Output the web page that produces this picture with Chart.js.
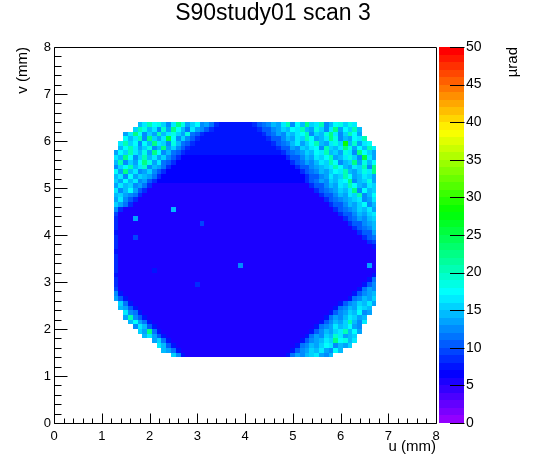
<!DOCTYPE html>
<html><head><meta charset="utf-8">
<script src="https://cdn.jsdelivr.net/npm/chart.js@4.4.1/dist/chart.umd.min.js"></script>
<style>html,body{margin:0;padding:0;background:#fff;}canvas{display:block;}</style>
</head><body>
<canvas id="c" width="546" height="472"></canvas>
<script>
// ---------------- data ----------------
const TITLE = "S90study01 scan 3";
const X_LABEL = "u (mm)";
const Y_LABEL = "v (mm)";
const Z_LABEL = "µrad";
const X_TICKS = [0, 1, 2, 3, 4, 5, 6, 7, 8];
const Y_TICKS = [0, 1, 2, 3, 4, 5, 6, 7, 8];
const Z_TICKS = [0, 5, 10, 15, 20, 25, 30, 35, 40, 45, 50];
const X_RANGE = [0, 8];
const Y_RANGE = [0, 8];
const Z_RANGE = [0, 50];
// histogram bins: first column's left edge (u), first row's top edge (v), bin width (mm)
const U_START = 1.25;
const V_START = 6.40;
const BIN_WIDTH = 0.1;
// cell value code: character index = value in µrad ('.' = empty bin); [cxN] = N bins of value c
const VALUE_CODE = "0123456789ABCDEFGHIJKLMNOPQRSTUVWXYZabcdefghijklmn";
const MAP_ROWS = [
  "[.x5]EGKHIFCGMIDFHCDB8[7x7]8ABCEDGKCHEMFGKCEHIFIG[.x4]",
  "[.x4]FKIEGCJDMHEBGDCA8[7x9]8AACDFEHGKEDIFCGMDHFKE[.x3]",
  "[.x2]DGMHCFDKEGIFDIBA8[7x12]8ABDCFEGHKCFEIMGCFKHD[.x3]",
  "[.x2]HEGKCMFDGPHCFCA8[7x14]8AACEDGFKHDEGMICEDHGK[.x2]",
  "[.x1]GKFHCHEMGFCIEBA8[7x16]8ABCEGDFHKEDGIFSEJDGH[.x1]",
  "[.x1]EHKGDFICEMDFCA8[7x18]8AADCFEGHCKFEGMIDHEKG",
  "DHFKGEIDMHCEBA8[7x20]8ABCDFEHGKEFDIGCMHFD",
  "GEMHCFKEGDFCA8[6x22]8AACEDGFHKDEGIFCPGD",
  "EKCFDHMIDGBA8[6x24]8ABDCEGFKHCEFMDIEH",
  "CFHKEGJCEDB8[6x26]8AACDEFGKHEDGFKCM",
  "HDMEGCDFCA8[6x28]8ABCEDFHGKEDFIGM",
  "EGCHDFEDB8[6x30]8AACDGEFKHDEGFD",
  "FDHEGCDA8[6x31]8ABDCFEGHMCEFID",
  "DGEFCDB8[5x33]8AACEDGFKHEDGF",
  "GCEHDA8[5x35]8ABCDFEGMCHEF",
  "EFDCB8[5x37]8AACEDGFKCEH",
  "DGCA8[5x39]8ABCDEFGCDG",
  "FDB8[5x41]8AACEDFHCE",
  "C8[5x10]E[5x33]8ABCDFEGD",
  "9[5x46]8AACEDFG",
  "8[5x3]D[5x43]8ABDCEF",
  "8[5x17]9[5x30]8AACDE",
  "8[5x49]8ABCE",
  "7[5x50]8AAD",
  "8[5x3]9[5x47]8AB",
  "8[5x52]89",
  "8[5x53]7",
  "7[5x54]",
  "8[5x54]",
  "8[5x54]",
  "8[5x25]C[5x26]D5",
  "8[5x7]7[5x46]",
  "7[5x53]7",
  "8[5x52]7B",
  "8[5x16]8[5x34]7AC",
  "9[5x50]7BDC",
  "C7[5x48]7ACDE",
  "DA7[5x46]7BCEDF",
  "[.x1]FB7[5x43]7ACDFEGD",
  "[.x1]EDA7[5x41]7BCEDGFE[.x1]",
  "[.x2]GCB7[5x39]7ACDFEHCD[.x1]",
  "[.x2]DKCA7[5x37]7BDCEGFDE[.x2]",
  "[.x3]EHDB7[5x35]7ACEDFKECG[.x2]",
  "[.x4]CGEA7[5x33]7BCDGEFHDC[.x3]",
  "[.x5]FDMB7[5x31]7ACEDFGKEHD[.x3]",
  "[.x6]EGDA7[5x29]7BDCFEJGDEF[.x4]",
  "[.x8]DFB7[5x27]7ACDEGFMHIEG[.x4]",
  "[.x9]GEA7[5x25]7BCEDFHGCEDF[.x5]",
  "[.x10]EDB7[5x23]7ACDFEGDCHE[.x7]",
  "[.x12]FC7[5x21]7BDCEFGDCE[.x9]"
];

// ---------------- build cells ----------------
const cells = [];
MAP_ROWS.forEach((row, r) => {
  const s = row.replace(/\[(.)x(\d+)\]/g, (m, ch, n) => ch.repeat(Number(n)));
  for (let c = 0; c < s.length; c++) {
    const z = VALUE_CODE.indexOf(s[c]);
    if (s[c] === '.' || z < 0) continue;
    cells.push({ x: U_START + (c + 0.5) * BIN_WIDTH, y: V_START - (r + 0.5) * BIN_WIDTH, z: z });
  }
});

// ROOT "pretty" palette: 50 levels violet -> red (HLS, s=1, l=0.5)
const N_LEVELS = 50;
function paletteColor(i) {
  const hue = 280 - (i + 1) * (280 / N_LEVELS);
  return 'hsl(' + hue.toFixed(2) + ',100%,50%)';
}
function levelOf(z) {
  const t = (z - Z_RANGE[0]) / (Z_RANGE[1] - Z_RANGE[0]);
  return Math.max(0, Math.min(N_LEVELS - 1, Math.floor(t * N_LEVELS + 1e-9)));
}
const snap = v => Math.round(v * 1e6) / 1e6;

const FONT = "'Liberation Sans', Arial, Helvetica, sans-serif";

const rootPlugin = {
  id: 'rootColz',
  beforeDatasetsDraw(chart) {
    const { ctx, chartArea: ca, scales: { x, y } } = chart;
    const data = chart.data.datasets[0].data;
    ctx.save();
    ctx.beginPath();
    ctx.rect(ca.left, ca.top, ca.right - ca.left, ca.bottom - ca.top);
    ctx.clip();
    const h = BIN_WIDTH / 2;
    data.forEach(p => {
      const L = Math.round(x.getPixelForValue(snap(p.x - h)));
      const R = Math.round(x.getPixelForValue(snap(p.x + h)));
      const T = Math.round(y.getPixelForValue(snap(p.y + h)));
      const B = Math.round(y.getPixelForValue(snap(p.y - h)));
      ctx.fillStyle = paletteColor(levelOf(p.z));
      ctx.fillRect(L, T, R - L, B - T);
    });
    ctx.restore();
  },
  afterDraw(chart) {
    const { ctx, chartArea: ca, scales: { x, y, z } } = chart;
    ctx.save();
    // colour bar
    const bx0 = Math.round(ca.right) + 3, bx1 = Math.round(ca.right) + 28;
    for (let i = 0; i < N_LEVELS; i++) {
      const v0 = Z_RANGE[0] + (Z_RANGE[1] - Z_RANGE[0]) * i / N_LEVELS;
      const v1 = Z_RANGE[0] + (Z_RANGE[1] - Z_RANGE[0]) * (i + 1) / N_LEVELS;
      const T = Math.round(z.getPixelForValue(v1));
      const B = Math.round(z.getPixelForValue(v0));
      ctx.fillStyle = paletteColor(i);
      ctx.fillRect(bx0, T, bx1 - bx0, B - T);
    }
    ctx.strokeStyle = '#000';
    ctx.lineWidth = 1;
    ctx.beginPath();
    Z_TICKS.forEach(t => {
      const py = Math.round(z.getPixelForValue(t)) + 0.5;
      ctx.moveTo(bx1 - 14, py); ctx.lineTo(bx1 + 0.5, py);
    });
    // frame
    const l = Math.round(ca.left) + 0.5, r = Math.round(ca.right) + 0.5;
    const t = Math.round(ca.top) + 0.5, b = Math.round(ca.bottom) + 0.5;
    ctx.moveTo(l, t); ctx.lineTo(r, t); ctx.lineTo(r, b); ctx.lineTo(l, b); ctx.closePath();
    // x ticks (inside, bottom)
    X_TICKS.forEach((tv, i) => {
      const px = Math.round(x.getPixelForValue(tv)) + 0.5;
      ctx.moveTo(px, b); ctx.lineTo(px, b - 10);
      if (i < X_TICKS.length - 1) {
        const step = (X_TICKS[i + 1] - tv) / 5;
        for (let k = 1; k < 5; k++) {
          const mx = Math.round(x.getPixelForValue(tv + k * step)) + 0.5;
          ctx.moveTo(mx, b); ctx.lineTo(mx, b - 5);
        }
      }
    });
    // y ticks (inside, left)
    Y_TICKS.forEach((tv, i) => {
      const py = Math.round(y.getPixelForValue(tv)) + 0.5;
      ctx.moveTo(l, py); ctx.lineTo(l + 13, py);
      if (i < Y_TICKS.length - 1) {
        const step = (Y_TICKS[i + 1] - tv) / 5;
        for (let k = 1; k < 5; k++) {
          const my = Math.round(y.getPixelForValue(tv + k * step)) + 0.5;
          ctx.moveTo(l, my); ctx.lineTo(l + 7, my);
        }
      }
    });
    ctx.stroke();
    // colour-bar title
    ctx.fillStyle = '#000';
    ctx.font = '15px ' + FONT;
    ctx.translate(bx1 + 49, Math.round(ca.top));
    ctx.rotate(-Math.PI / 2);
    ctx.textAlign = 'right';
    ctx.textBaseline = 'middle';
    ctx.fillText(Z_LABEL, 0, 0);
    ctx.restore();
  }
};

const fixedTicks = arr => scale => { scale.ticks = arr.map(v => ({ value: v })); };

new Chart(document.getElementById('c'), {
  type: 'scatter',
  data: { datasets: [{ label: Z_LABEL, data: cells, pointRadius: 0, pointHoverRadius: 0, showLine: false }] },
  options: {
    responsive: false,
    animation: false,
    devicePixelRatio: 1,
    events: [],
    layout: { padding: 0 },
    plugins: {
      legend: { display: false },
      tooltip: { enabled: false },
      title: {
        display: true, text: TITLE, color: '#000',
        font: { family: FONT, size: 23, weight: 'normal' },
        padding: { top: 0, bottom: 19.4 }
      }
    },
    scales: {
      x: {
        type: 'linear', position: 'bottom', min: X_RANGE[0], max: X_RANGE[1],
        afterBuildTicks: fixedTicks(X_TICKS),
        grid: { display: false, drawTicks: false },
        border: { display: false },
        ticks: { padding: 6, color: '#000', font: { family: FONT, size: 13 }, maxRotation: 0, autoSkip: false },
        title: { display: true, text: X_LABEL, align: 'end', color: '#000', font: { family: FONT, size: 15 }, padding: { top: 0, bottom: 16 } },
        afterFit(s) { s.height = 49; }
      },
      y: {
        type: 'linear', position: 'left', min: Y_RANGE[0], max: Y_RANGE[1],
        afterBuildTicks: fixedTicks(Y_TICKS),
        grid: { display: false, drawTicks: false },
        border: { display: false },
        ticks: { padding: 3, color: '#000', font: { family: FONT, size: 13 }, autoSkip: false },
        title: { display: true, text: Y_LABEL, align: 'end', color: '#000', font: { family: FONT, size: 15 }, padding: { top: 14, bottom: 0 } },
        afterFit(s) { s.width = 54; }
      },
      z: {
        type: 'linear', position: 'right', min: Z_RANGE[0], max: Z_RANGE[1],
        afterBuildTicks: fixedTicks(Z_TICKS),
        grid: { display: false, drawTicks: false },
        border: { display: false },
        ticks: { padding: 30, color: '#000', font: { family: FONT, size: 14 }, autoSkip: false },
        afterFit(s) { s.width = 110; }
      }
    }
  },
  plugins: [rootPlugin]
});
</script>
</body></html>
